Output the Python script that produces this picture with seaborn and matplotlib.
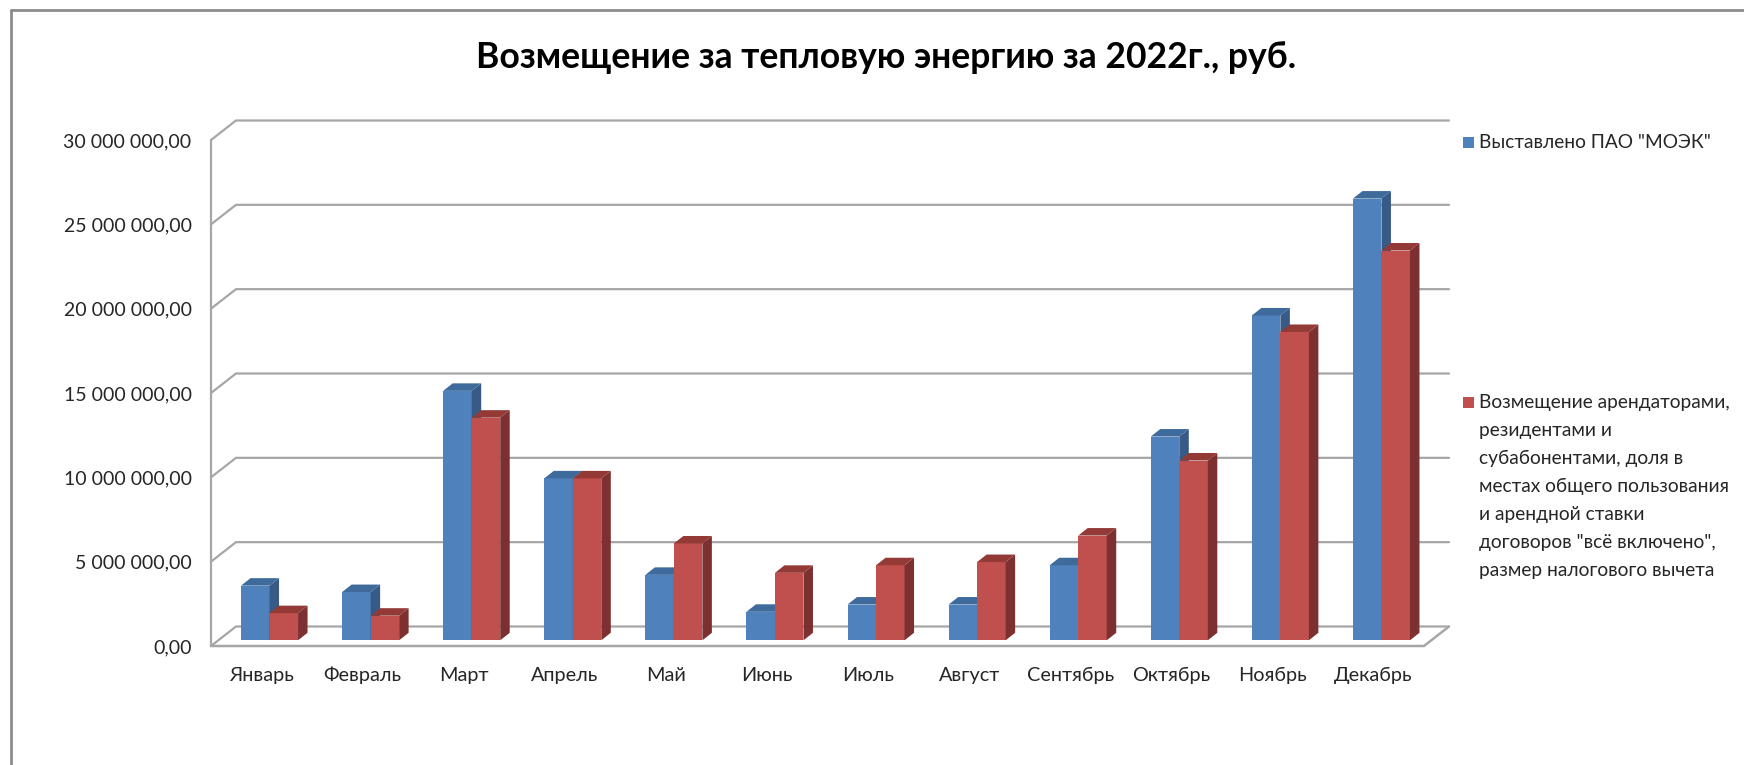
import numpy as np
import pandas as pd
import matplotlib
matplotlib.use("Agg")
import matplotlib.pyplot as plt
import seaborn as sns
from matplotlib.patches import Polygon, Rectangle
from matplotlib.transforms import Affine2D
from matplotlib.lines import Line2D

# ---------------- data ----------------
months = ["Январь", "Февраль", "Март", "Апрель", "Май", "Июнь",
          "Июль", "Август", "Сентябрь", "Октябрь", "Ноябрь", "Декабрь"]
billed = [3.24e6, 2.86e6, 14.79e6, 9.60e6, 3.88e6, 1.69e6,
          2.12e6, 2.12e6, 4.45e6, 12.08e6, 19.26e6, 26.19e6]
reimbursed = [1.61e6, 1.46e6, 13.20e6, 9.60e6, 5.74e6, 4.00e6,
              4.45e6, 4.64e6, 6.21e6, 10.66e6, 18.28e6, 23.11e6]
series_names = ['Выставлено ПАО "МОЭК"',
                'Возмещение арендаторами, резидентами и субабонентами, доля в местах '
                'общего пользования и арендной ставки договоров "всё включено", '
                'размер налогового вычета']
legend_lines_2 = ["Возмещение арендаторами,", "резидентами и",
                  "субабонентами, доля в", "местах общего пользования",
                  "и арендной ставки", 'договоров "всё включено",',
                  "размер налогового вычета"]
y_ticks = [0, 5e6, 10e6, 15e6, 20e6, 25e6, 30e6]
y_tick_labels = ["0,00", "5 000 000,00", "10 000 000,00", "15 000 000,00",
                 "20 000 000,00", "25 000 000,00", "30 000 000,00"]
title = "Возмещение за тепловую энергию за 2022г., руб."

front_colors = ["#4F81BD", "#C0504D"]
side_colors = ["#375A86", "#7D3030"]
top_colors = ["#3E6A9C", "#933A37"]

# ---------------- figure ----------------
sns.set_theme(style="white")
plt.rcParams["font.family"] = ["Lato", "DejaVu Sans"]

W, H, DPI = 1744, 765, 100
fig = plt.figure(figsize=(W / DPI, H / DPI), dpi=DPI)
fig.patch.set_facecolor("white")

# axes = front plane of the 3D box
x0_px, x1_px = 211, 1424
y0_px, y1_px = 646, 140  # pixel rows (from top) for 0 and 30M
ax = fig.add_axes([x0_px / W, (H - y0_px) / H, (x1_px - x0_px) / W, (y0_px - y1_px) / H])

df = pd.DataFrame({
    "Месяц": months * 2,
    "Сумма": billed + reimbursed,
    "Показатель": [series_names[0]] * 12 + [series_names[1]] * 12,
})
sns.barplot(data=df, x="Месяц", y="Сумма", hue="Показатель", order=months,
            hue_order=series_names, palette=front_colors, saturation=1,
            width=0.564, dodge=True, gap=0, legend=False, ax=ax,
            edgecolor="none", linewidth=0)

ax.set_xlim(-0.5, len(months) - 0.5)
ax.set_ylim(0, 30e6)
for s in ax.spines.values():
    s.set_visible(False)
ax.set_facecolor("none")
ax.set_xlabel("")
ax.set_ylabel("")
ax.set_yticks(y_ticks)
ax.set_yticklabels(y_tick_labels)
ax.tick_params(axis="y", length=0, pad=14, labelsize=14, labelcolor="#262626")
ax.tick_params(axis="x", length=0, pad=15, labelsize=14.3, labelcolor="#262626")
ax.grid(False)

# wall / grid geometry (display pixel offsets)
wall_dx, wall_dy = 25, 19.5
bar_dx, bar_dy = 8, 5.7
face_dx, face_dy = 9.5, 7.5
to_data = ax.transData.inverted()
grid_color = "#A6A6A6"

def disp(xd, yd):
    return ax.transData.transform((xd, yd))

def data_pts(pts):
    return to_data.transform(np.array(pts))

xl, xr = ax.get_xlim()
for v in y_ticks:
    fx, fy = disp(xl, v)
    bx, by = fx + wall_dx, fy + wall_dy
    ex = disp(xr, v)[0] + wall_dx
    pts = data_pts([(fx, fy), (bx, by), (ex, by)])
    ax.add_line(Line2D(pts[:, 0], pts[:, 1], color=grid_color, lw=1.6,
                       zorder=1, clip_on=False, solid_joinstyle="miter"))
# left wall front edge
p0 = disp(xl, 0)
p1 = disp(xl, 30e6)
pts = data_pts([p0, p1])
ax.add_line(Line2D(pts[:, 0], pts[:, 1], color=grid_color, lw=1.6, zorder=1, clip_on=False))
# floor front edge and right diagonal
pr = disp(xr, 0)
pts = data_pts([p0, pr, (pr[0] + wall_dx, pr[1] + wall_dy)])
ax.add_line(Line2D(pts[:, 0], pts[:, 1], color="#A6A6A6", lw=1.8, zorder=1, clip_on=False))

# bars: shift into the bar plane and add 3D side/top faces
n = len(months)
bars = list(ax.patches)
shift = Affine2D().translate(bar_dx, bar_dy)
order = []
for i in range(n):
    order.append((bars[i], 0))
    order.append((bars[n + i], 1))
z = 2
for patch, k in order:
    patch.set_transform(ax.transData + shift)
    patch.set_zorder(z)
    patch.set_clip_on(False)
    bb = patch.get_window_extent()
    xa, xb_, ya, yb = bb.x0, bb.x1, bb.y0, bb.y1
    side = [(xb_, ya), (xb_ + face_dx, ya + face_dy), (xb_ + face_dx, yb + face_dy), (xb_, yb)]
    top = [(xa, yb), (xa + face_dx, yb + face_dy), (xb_ + face_dx, yb + face_dy), (xb_, yb)]
    ax.add_patch(Polygon(data_pts(side), closed=True, facecolor=side_colors[k],
                         edgecolor="none", zorder=z + 0.1, clip_on=False))
    ax.add_patch(Polygon(data_pts(top), closed=True, facecolor=top_colors[k],
                         edgecolor="none", zorder=z + 0.2, clip_on=False))
    z += 1

# title
fig.text(886 / W, 1 - 57 / H, title, ha="center", va="center",
         fontsize=25.6, fontweight="bold", color="black")

# legend (Excel-style, entries spread vertically)
sq = 11
leg_x = 1463
entries = [(series_names[0], [series_names[0]], 142.7),
           (series_names[1], legend_lines_2, 402.7)]
for k, (name, lines, yc) in enumerate(entries):
    fig.patches.append(Rectangle(((leg_x) / W, 1 - (yc + sq / 2) / H), sq / W, sq / H,
                                 transform=fig.transFigure, facecolor=front_colors[k],
                                 edgecolor="none"))
    for j, line in enumerate(lines):
        fig.text(1479 / W, 1 - (yc + j * 27.9) / H, line, ha="left", va="center",
                 fontsize=13.8, color="#262626")

# chart frame (top and left)
fig.lines.append(Line2D([11 / W, 1], [1 - 10 / H, 1 - 10 / H], transform=fig.transFigure,
                        color="#8C8C8C", lw=2))
fig.lines.append(Line2D([11 / W, 11 / W], [0, 1 - 10 / H], transform=fig.transFigure,
                        color="#8C8C8C", lw=2))

fig.savefig("out.png", dpi=DPI, facecolor="white")
